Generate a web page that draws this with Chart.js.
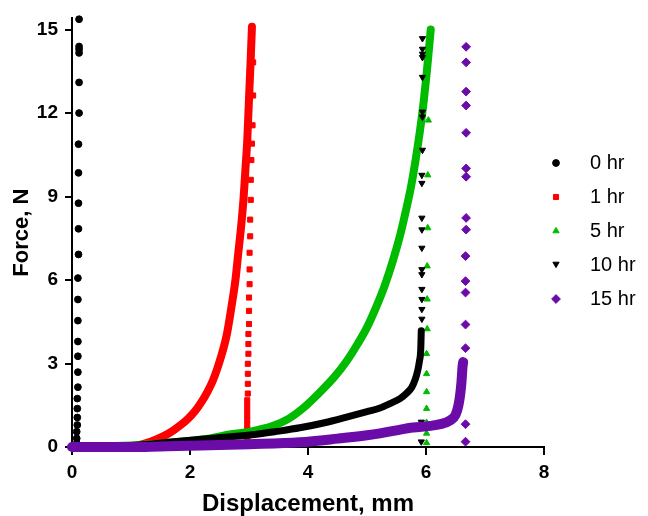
<!DOCTYPE html>
<html>
<head>
<meta charset="utf-8">
<title>Force vs displacement</title>
<script src="https://cdn.jsdelivr.net/npm/chart.js@4.4.1/dist/chart.umd.min.js"></script>
<style>
  html, body { margin: 0; padding: 0; background: #fff; }
  canvas { display: block; }
</style>
</head>
<body>
<canvas id="chartFuerza" width="648" height="516"></canvas>
<script>
// series names, colours and marker styles
const seriesLabels = ['0 hr', '1 hr', '5 hr', '10 hr', '15 hr'];
const seriesColors = ['#000000', '#ff0000', '#00bb00', '#000000', '#6c0ca8'];
const seriesStyles = ['circle', 'rect', 'triangle', 'triangle', 'rectRot'];
const seriesRotation = [0, 0, 0, 180, 0];
const markerRadius = [3.4, 3.6, 3.6, 3.6, 4.4];

// axis ticks
const xTicks = [0, 2, 4, 6, 8];
const yTicks = [0, 3, 6, 9, 12, 15];

// 0 hr: only a column of points next to the axis
const hr0Disp  = [0.12, 0.12, 0.12, 0.12, 0.12, 0.12, 0.11, 0.11, 0.11, 0.11, 0.11, 0.10, 0.10, 0.10, 0.10, 0.10, 0.10, 0.10, 0.09, 0.09, 0.09, 0.09, 0.08, 0.08, 0.08, 0.08];
const hr0Force = [15.37, 14.39, 14.29, 14.16, 13.1, 12.0, 10.88, 9.85, 8.76, 7.84, 6.92, 6.07, 5.3, 4.54, 3.79, 3.26, 2.69, 2.15, 1.74, 1.38, 1.06, 0.79, 0.55, 0.31, 0.13, 0.03];

// 1 hr
const hr1CurveDisp  = [0.00, 0.50, 1.07, 1.34, 1.56, 1.72, 1.85, 1.96, 2.09, 2.19, 2.30, 2.39, 2.46, 2.52, 2.62, 2.70, 2.77, 2.82, 2.87, 2.91, 2.94, 2.97, 2.99, 3.01, 3.03, 3.05];
const hr1CurveForce = [0.00, 0.01, 0.05, 0.20, 0.40, 0.60, 0.80, 1.00, 1.30, 1.60, 2.00, 2.40, 2.80, 3.20, 4.00, 5.00, 6.00, 7.00, 8.00, 9.00, 10.0, 11.0, 12.0, 13.0, 14.0, 15.1];
const hr1ColDisp  = [2.97, 2.97, 2.97, 2.97, 2.97, 2.97, 2.97, 2.97, 2.97, 2.97, 2.97, 2.98, 2.98, 2.98, 2.98, 2.99, 2.99, 2.99, 3.00, 3.00, 3.00, 3.01, 3.01, 3.01, 3.02, 3.02, 3.03, 3.03, 3.04, 3.05, 3.06, 3.07, 3.07];
const hr1ColForce = [0.10, 0.22, 0.35, 0.49, 0.64, 0.80, 0.97, 1.14, 1.32, 1.50, 1.68, 1.92, 2.27, 2.63, 2.99, 3.35, 3.70, 4.06, 4.42, 4.89, 5.37, 5.85, 6.38, 6.98, 7.57, 8.17, 8.88, 9.60, 10.31, 10.9, 11.56, 12.63, 13.82];

// 5 hr
const hr5CurveDisp  = [0.00, 1.00, 1.80, 2.34, 2.62, 3.02, 3.41, 3.66, 3.92, 4.17, 4.44, 4.66, 4.84, 5.00, 5.15, 5.30, 5.44, 5.56, 5.66, 5.75, 5.83, 5.90, 5.96, 6.01, 6.05, 6.08];
const hr5CurveForce = [0.00, 0.05, 0.18, 0.31, 0.43, 0.55, 0.76, 1.00, 1.40, 1.90, 2.50, 3.10, 3.70, 4.30, 5.00, 5.80, 6.70, 7.60, 8.50, 9.40, 10.4, 11.4, 12.4, 13.4, 14.3, 15.0];
const hr5ColDisp  = [6.01, 6.01, 6.01, 6.01, 6.01, 6.01, 6.01, 6.02, 6.02, 6.02, 6.03, 6.03, 6.04];
const hr5ColForce = [0.15, 0.49, 0.88, 1.38, 1.98, 2.63, 3.35, 4.24, 5.31, 6.50, 7.87, 9.77, 11.74];

// 10 hr
const hr10CurveDisp  = [0.00, 1.00, 1.72, 2.34, 3.02, 3.50, 3.86, 4.30, 4.70, 5.00, 5.22, 5.40, 5.56, 5.68, 5.76, 5.82, 5.86, 5.89, 5.91, 5.92];
const hr10CurveForce = [0.00, 0.05, 0.19, 0.31, 0.43, 0.57, 0.69, 0.88, 1.10, 1.27, 1.40, 1.57, 1.74, 1.95, 2.15, 2.45, 2.75, 3.10, 3.46, 4.18];
const hr10ColDisp  = [5.92, 5.92, 5.93, 5.93, 5.93, 5.93, 5.93, 5.93, 5.93, 5.93, 5.93, 5.93, 5.93, 5.94, 5.94, 5.94, 5.94, 5.94, 5.94, 5.94, 5.94];
const hr10ColForce = [0.19, 0.90, 4.60, 4.95, 5.31, 5.67, 6.20, 6.38, 7.15, 7.81, 8.23, 9.48, 9.77, 10.67, 11.86, 12.04, 13.29, 14.00, 14.12, 14.30, 14.68];

// 15 hr
const hr15CurveDisp  = [0.00, 0.50, 1.00, 1.50, 2.17, 3.00, 3.86, 4.50, 5.00, 5.22, 5.50, 5.78, 6.07, 6.24, 6.41, 6.50, 6.55, 6.58, 6.60, 6.62, 6.63];
const hr15CurveForce = [0.00, 0.00, 0.00, 0.02, 0.05, 0.10, 0.17, 0.30, 0.42, 0.49, 0.60, 0.70, 0.76, 0.82, 0.96, 1.15, 1.50, 1.90, 2.30, 2.90, 3.05];
const hr15ColDisp  = [6.67, 6.67, 6.67, 6.67, 6.67, 6.67, 6.67, 6.68, 6.68, 6.68, 6.68, 6.68, 6.68, 6.68, 6.68, 6.68];
const hr15ColForce = [0.19, 0.82, 3.55, 4.40, 5.55, 5.96, 6.86, 7.81, 8.23, 9.71, 10.01, 11.29, 12.27, 12.77, 13.82, 14.38];

const FONT = 'Arial, "Liberation Sans", sans-serif';

function pares(xs, ys) {
  return xs.map((x, i) => ({ x, y: ys[i] }));
}

// dense band of each series, drawn as a thick smooth line
function curva(idx, xs, ys, ancho, orden) {
  return {
    label: seriesLabels[idx] + ' curva',
    data: pares(xs, ys),
    showLine: true,
    cubicInterpolationMode: 'monotone',
    borderColor: seriesColors[idx],
    backgroundColor: seriesColors[idx],
    borderWidth: ancho,
    borderCapStyle: 'round',
    borderJoinStyle: 'round',
    pointRadius: 0,
    clip: false,
    order: orden
  };
}

// loose markers of each series
function columna(idx, xs, ys, orden) {
  return {
    label: seriesLabels[idx],
    data: pares(xs, ys),
    showLine: false,
    pointStyle: seriesStyles[idx],
    rotation: seriesRotation[idx],
    pointRadius: markerRadius[idx],
    pointBackgroundColor: seriesColors[idx],
    pointBorderColor: seriesColors[idx],
    pointBorderWidth: 1,
    clip: false,
    order: orden
  };
}

// legend on the right side, drawn by hand
const leyendaLateral = {
  id: 'leyendaLateral',
  afterDraw(chart) {
    const ctx = chart.ctx;
    ctx.save();
    seriesLabels.forEach((lbl, i) => {
      const y = 163 + i * 34;
      ctx.fillStyle = seriesColors[i];
      ctx.strokeStyle = seriesColors[i];
      ctx.lineWidth = 1;
      Chart.helpers.drawPoint(ctx, {
        pointStyle: seriesStyles[i],
        rotation: seriesRotation[i],
        radius: markerRadius[i],
        borderWidth: 1
      }, 556, y + (seriesRotation[i] ? -1 : 0));
      ctx.fillStyle = '#000';
      ctx.font = '20px ' + FONT;
      ctx.textBaseline = 'middle';
      ctx.textAlign = 'left';
      ctx.fillText(lbl, 590, y);
    });
    ctx.restore();
  }
};

const datasets = [
  columna(0, hr0Disp, hr0Force, 9),
  curva(1, hr1CurveDisp, hr1CurveForce, 8, 8),
  columna(1, hr1ColDisp, hr1ColForce, 7),
  curva(2, hr5CurveDisp, hr5CurveForce, 8, 6),
  columna(2, hr5ColDisp, hr5ColForce, 5),
  curva(3, hr10CurveDisp, hr10CurveForce, 7, 4),
  columna(3, hr10ColDisp, hr10ColForce, 3),
  curva(4, hr15CurveDisp, hr15CurveForce, 10, 1),
  columna(4, hr15ColDisp, hr15ColForce, 0)
];

new Chart(document.getElementById('chartFuerza'), {
  type: 'scatter',
  data: { datasets },
  options: {
    responsive: false,
    animation: false,
    layout: { padding: { left: 0, right: 104, top: 16, bottom: 0 } },
    plugins: {
      legend: { display: false },
      tooltip: { enabled: false }
    },
    scales: {
      x: {
        type: 'linear',
        min: 0,
        max: 8,
        afterBuildTicks: s => { s.ticks = xTicks.map(v => ({ value: v })); },
        afterFit: s => { s.height = 69; },
        ticks: { color: '#000', padding: 6, font: { family: FONT, size: 19, weight: 'bold' } },
        grid: { drawOnChartArea: false, drawTicks: true, tickLength: 8, color: '#000', lineWidth: 2 },
        border: { display: true, color: '#000', width: 2 },
        title: {
          display: true,
          text: 'Displacement, mm',
          color: '#000',
          padding: { top: 0, bottom: 0 },
          font: { family: FONT, size: 24, weight: 'bold', lineHeight: 1 }
        }
      },
      y: {
        type: 'linear',
        min: 0,
        max: 15.4,
        afterBuildTicks: s => { s.ticks = yTicks.map(v => ({ value: v })); },
        afterFit: s => { s.width = 72; },
        ticks: { color: '#000', padding: 7, font: { family: FONT, size: 19, weight: 'bold' } },
        grid: { drawOnChartArea: false, drawTicks: true, tickLength: 7, color: '#000', lineWidth: 2 },
        border: { display: true, color: '#000', width: 2 },
        title: {
          display: true,
          text: 'Force, N',
          color: '#000',
          padding: { top: 11, bottom: 0 },
          font: { family: FONT, size: 22, weight: 'bold', lineHeight: 1 }
        }
      }
    }
  },
  plugins: [leyendaLateral]
});
</script>
</body>
</html>
